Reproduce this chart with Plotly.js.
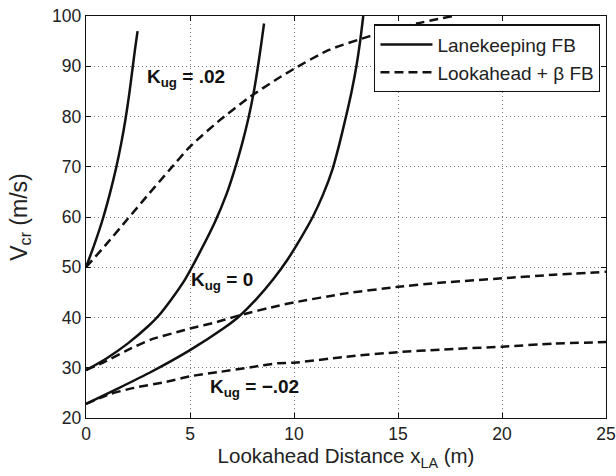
<!DOCTYPE html>
<html>
<head>
<meta charset="utf-8">
<script src="https://cdn.plot.ly/plotly-3.0.1.min.js"></script>
<style>html,body{margin:0;padding:0;background:#fff;}#chart{width:616px;height:476px;}</style>
</head>
<body>
<div id="chart"></div>
<script>
// Lanekeeping FB (solid) curves
const lkP02X = [0, 0.4, 0.8, 1.15, 1.45, 1.7, 1.9, 2.08, 2.23, 2.37, 2.48];
const lkP02Y = [50, 54.5, 59.5, 64.7, 69.8, 74.8, 79.5, 84.5, 89.3, 93.8, 97];
const lk0X = [0, 1, 2, 3, 3.5, 4.1, 4.75, 5.45, 6.2, 6.75, 7.15, 7.5, 7.8, 8.05, 8.25, 8.42, 8.56];
const lk0Y = [29.5, 31.9, 34.8, 38.3, 40.4, 43.6, 47.5, 52.8, 59, 64.5, 69.5, 74.5, 79.5, 84.5, 89.5, 94.3, 98.5];
const lkM02X = [0, 1.5, 3.1, 5, 6.6, 7.3, 8.2, 9.0, 9.7, 10.3, 10.9, 11.4, 11.85, 12.18, 12.5, 12.77, 13.0, 13.18, 13.33];
const lkM02Y = [22.8, 25.8, 29.1, 33.5, 37.8, 40, 43.7, 47.6, 51.6, 55.6, 60, 64.5, 69.5, 74.5, 80, 85, 90, 95, 100];

// Lookahead + beta FB (dashed) curves
const laP02X = [0, 1, 2, 3, 4, 5, 6.5, 7.88, 9.09, 10, 11.65, 13.65, 15.9, 17.66];
const laP02Y = [50, 54.7, 59.6, 64.5, 69.3, 74, 79.5, 83.9, 87.2, 89.5, 93.2, 96, 98.5, 100];
const la0X = [0, 0.87, 1.99, 3.11, 4.39, 5, 6.3, 7.44, 9.2, 10, 12.5, 15, 17, 20, 22.5, 25];
const la0Y = [29.6, 31.1, 33.5, 35.6, 37.1, 37.8, 39.1, 40.5, 42.3, 43.0, 44.8, 46.1, 46.9, 47.8, 48.5, 49.1];
const laM02X = [0, 1.19, 2.31, 3.75, 5, 6.31, 7.92, 9.2, 10, 12.5, 15, 17, 20, 22.5, 25];
const laM02Y = [22.8, 24.8, 26, 27.1, 28.3, 29.1, 30.1, 30.9, 31.0, 32.2, 33.1, 33.6, 34.2, 34.8, 35.1];

const xTicks = [0, 5, 10, 15, 20, 25];
const yTicks = [20, 30, 40, 50, 60, 70, 80, 90, 100];
const legendNames = ['Lanekeeping FB', 'Lookahead + \u03b2 FB'];
const curveLabels = ['<b>K<sub>ug</sub> = .02</b>', '<b>K<sub>ug</sub> = 0</b>', '<b>K<sub>ug</sub> = \u2212.02</b>'];
const labelX = [2.85, 4.95, 5.88];
const labelY = [87.6, 47.2, 26.0];

const FONT = 'Liberation Sans, Arial, Helvetica, sans-serif';
const solid = {color: '#111', width: 2.5, shape: 'spline', smoothing: 0.6};
const dashed = {color: '#111', width: 2.5, dash: '9px,5px', shape: 'spline', smoothing: 0.6};

function tr(x, y, line, group, name, show) {
  return {x: x, y: y, type: 'scatter', mode: 'lines', line: line,
    legendgroup: group, name: name, showlegend: show, hoverinfo: 'skip'};
}

const data = [
  tr(lkP02X, lkP02Y, solid, 'lk', legendNames[0], true),
  tr(lk0X, lk0Y, solid, 'lk', legendNames[0], false),
  tr(lkM02X, lkM02Y, solid, 'lk', legendNames[0], false),
  tr(laP02X, laP02Y, dashed, 'la', legendNames[1], true),
  tr(la0X, la0Y, dashed, 'la', legendNames[1], false),
  tr(laM02X, laM02Y, dashed, 'la', legendNames[1], false)
];

const annotations = curveLabels.map((t, i) => ({
  x: labelX[i], y: labelY[i], xref: 'x', yref: 'y', text: t, showarrow: false,
  xanchor: 'left', yanchor: 'middle', font: {family: FONT, size: 19, color: '#111'}
}));

const axisCommon = {
  showline: true, linecolor: '#111', linewidth: 1.2, mirror: 'ticks',
  ticks: 'inside', ticklen: 5, tickcolor: '#111', tickwidth: 1,
  showgrid: true, gridcolor: '#777', gridwidth: 1, griddash: '1px,3px',
  zeroline: false, tickfont: {family: FONT, size: 17.5, color: '#222'}, automargin: false
};

const layout = {
  width: 616, height: 476,
  margin: {l: 86, r: 10, t: 16, b: 58},
  paper_bgcolor: '#fff', plot_bgcolor: '#fff',
  showlegend: true,
  xaxis: Object.assign({}, axisCommon, {
    range: [0, 25], tickvals: xTicks, ticktext: xTicks.map(String),
    title: {text: 'Lookahead Distance x<sub>LA</sub> (m)', font: {family: FONT, size: 20.5, color: '#222'}, standoff: 3}
  }),
  yaxis: Object.assign({}, axisCommon, {
    range: [20, 100], tickvals: yTicks, ticktext: yTicks.map(String),
    title: {text: 'V<sub>cr</sub> (m/s)', font: {family: FONT, size: 23, color: '#222'}, standoff: 18}
  }),
  legend: {
    x: 0.989, y: 0.979, xanchor: 'right', yanchor: 'top',
    bgcolor: '#fff', bordercolor: '#111', borderwidth: 1.2,
    font: {family: FONT, size: 19, color: '#222'}, tracegroupgap: 0, itemwidth: 52
  },
  annotations: annotations
};

Plotly.newPlot('chart', data, layout, {displayModeBar: false, staticPlot: true});
</script>
</body>
</html>
